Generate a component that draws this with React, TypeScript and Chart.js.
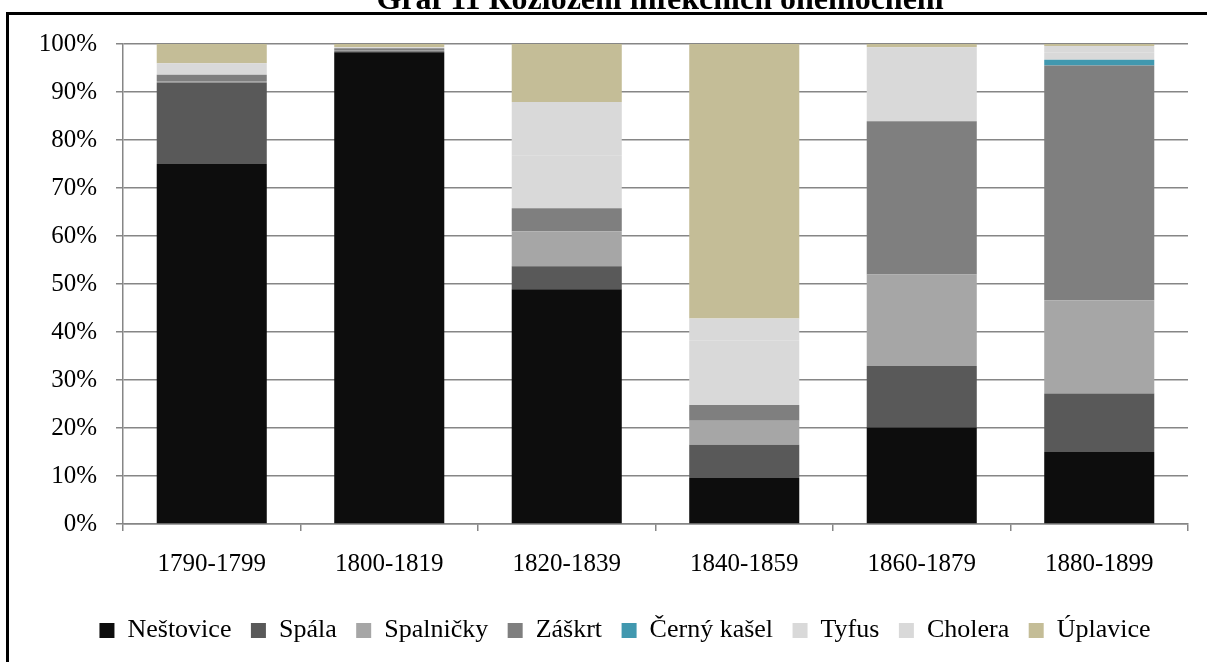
import React, { useEffect, useRef } from "react";
import { Chart, registerables } from "chart.js";

Chart.register(...registerables);

const TITLE = "Graf 11 Rozložení infekčních onemocnění";
const categories = ["1790-1799", "1800-1819", "1820-1839", "1840-1859", "1860-1879", "1880-1899"];

const nestovice = [75, 98.3, 48.9, 9.6, 20.1, 15.0];
const spala = [17, 0.2, 4.8, 6.9, 12.8, 12.2];
const spalnicky = [0.3, 0.1, 7.3, 5.0, 19.1, 19.4];
const zaskrt = [1.3, 0.5, 4.8, 3.3, 31.9, 48.9];
const cernyKasel = [0, 0, 0, 0, 0, 1.2];
const tyfus = [1.2, 0.2, 11.0, 13.4, 8.0, 1.5];
const cholera = [1.2, 0, 11.1, 4.6, 7.4, 1.4];
const uplavice = [4.0, 0.7, 12.1, 57.2, 0.7, 0.4];

const seriesNames = ["Neštovice", "Spála", "Spalničky", "Záškrt", "Černý kašel", "Tyfus", "Cholera", "Úplavice"];
const seriesValues = [nestovice, spala, spalnicky, zaskrt, cernyKasel, tyfus, cholera, uplavice];
const seriesColors = ["#0d0d0d", "#595959", "#a6a6a6", "#7f7f7f", "#4198af", "#d9d9d9", "#d9d9d9", "#c4bd97"];

const yTicks = [0, 10, 20, 30, 40, 50, 60, 70, 80, 90, 100];

const FONT = "'Liberation Serif', 'Times New Roman', serif";

const framePlugin = {
  id: "frameTitle",
  afterLayout(chart: any) {
    if (chart.legend) {
      chart.legend.left = 62;
    }
  },
  afterDraw(chart: any) {
    const ctx = chart.ctx;
    ctx.save();
    ctx.strokeStyle = "#000";
    ctx.lineWidth = 3;
    ctx.beginPath();
    ctx.moveTo(7.5, 662);
    ctx.lineTo(7.5, 13.5);
    ctx.lineTo(1207, 13.5);
    ctx.stroke();
    ctx.fillStyle = "#000";
    ctx.font = "bold 32px " + FONT;
    ctx.textAlign = "center";
    ctx.textBaseline = "alphabetic";
    ctx.fillText(TITLE, 660, 9);
    ctx.restore();
  },
};

export default function App() {
  const ref = useRef<HTMLCanvasElement>(null);
  useEffect(() => {
    const canvas = ref.current!;
    const chart = new Chart(canvas, {
      type: "bar",
      data: {
        labels: categories,
        datasets: seriesNames.map((name, i) => ({
          label: name,
          data: seriesValues[i],
          backgroundColor: seriesColors[i],
          borderWidth: 0,
          barPercentage: 0.62,
          categoryPercentage: 1,
        })),
      },
      options: {
        responsive: false,
        animation: false,
        layout: { padding: { left: 0, right: 19, top: 44, bottom: 8.5 } },
        plugins: {
          tooltip: { enabled: false },
          title: { display: false },
          legend: {
            position: "bottom",
            labels: {
              boxWidth: 15,
              boxHeight: 15,
              padding: 19.5,
              color: "#000",
              font: { family: FONT, size: 26 },
            },
          },
        },
        scales: {
          x: {
            stacked: true,
            afterFit: (s: any) => { s.height = 74; },
            grid: { drawOnChartArea: false, drawTicks: true, tickLength: 7, color: "#868686", lineWidth: 1.5 },
            border: { display: true, color: "#868686", width: 1.5 },
            ticks: { color: "#000", font: { family: FONT, size: 25 }, padding: 18 },
          },
          y: {
            stacked: true,
            min: 0,
            max: 100,
            afterFit: (s: any) => { s.width = 123; },
            afterBuildTicks: (s: any) => { s.ticks = yTicks.map((v) => ({ value: v })); },
            grid: { color: "#868686", lineWidth: 1.5, tickLength: 7 },
            border: { display: true, color: "#868686", width: 1.5 },
            ticks: {
              color: "#000",
              font: { family: FONT, size: 25 },
              padding: 19,
              callback: (v: any) => v + "%",
            },
          },
        },
      },
      plugins: [framePlugin],
    });
    return () => chart.destroy();
  }, []);
  return (
    <canvas
      ref={ref}
      width={1207}
      height={662}
      style={{ position: "absolute", left: 0, top: 0, display: "block" }}
    />
  );
}
